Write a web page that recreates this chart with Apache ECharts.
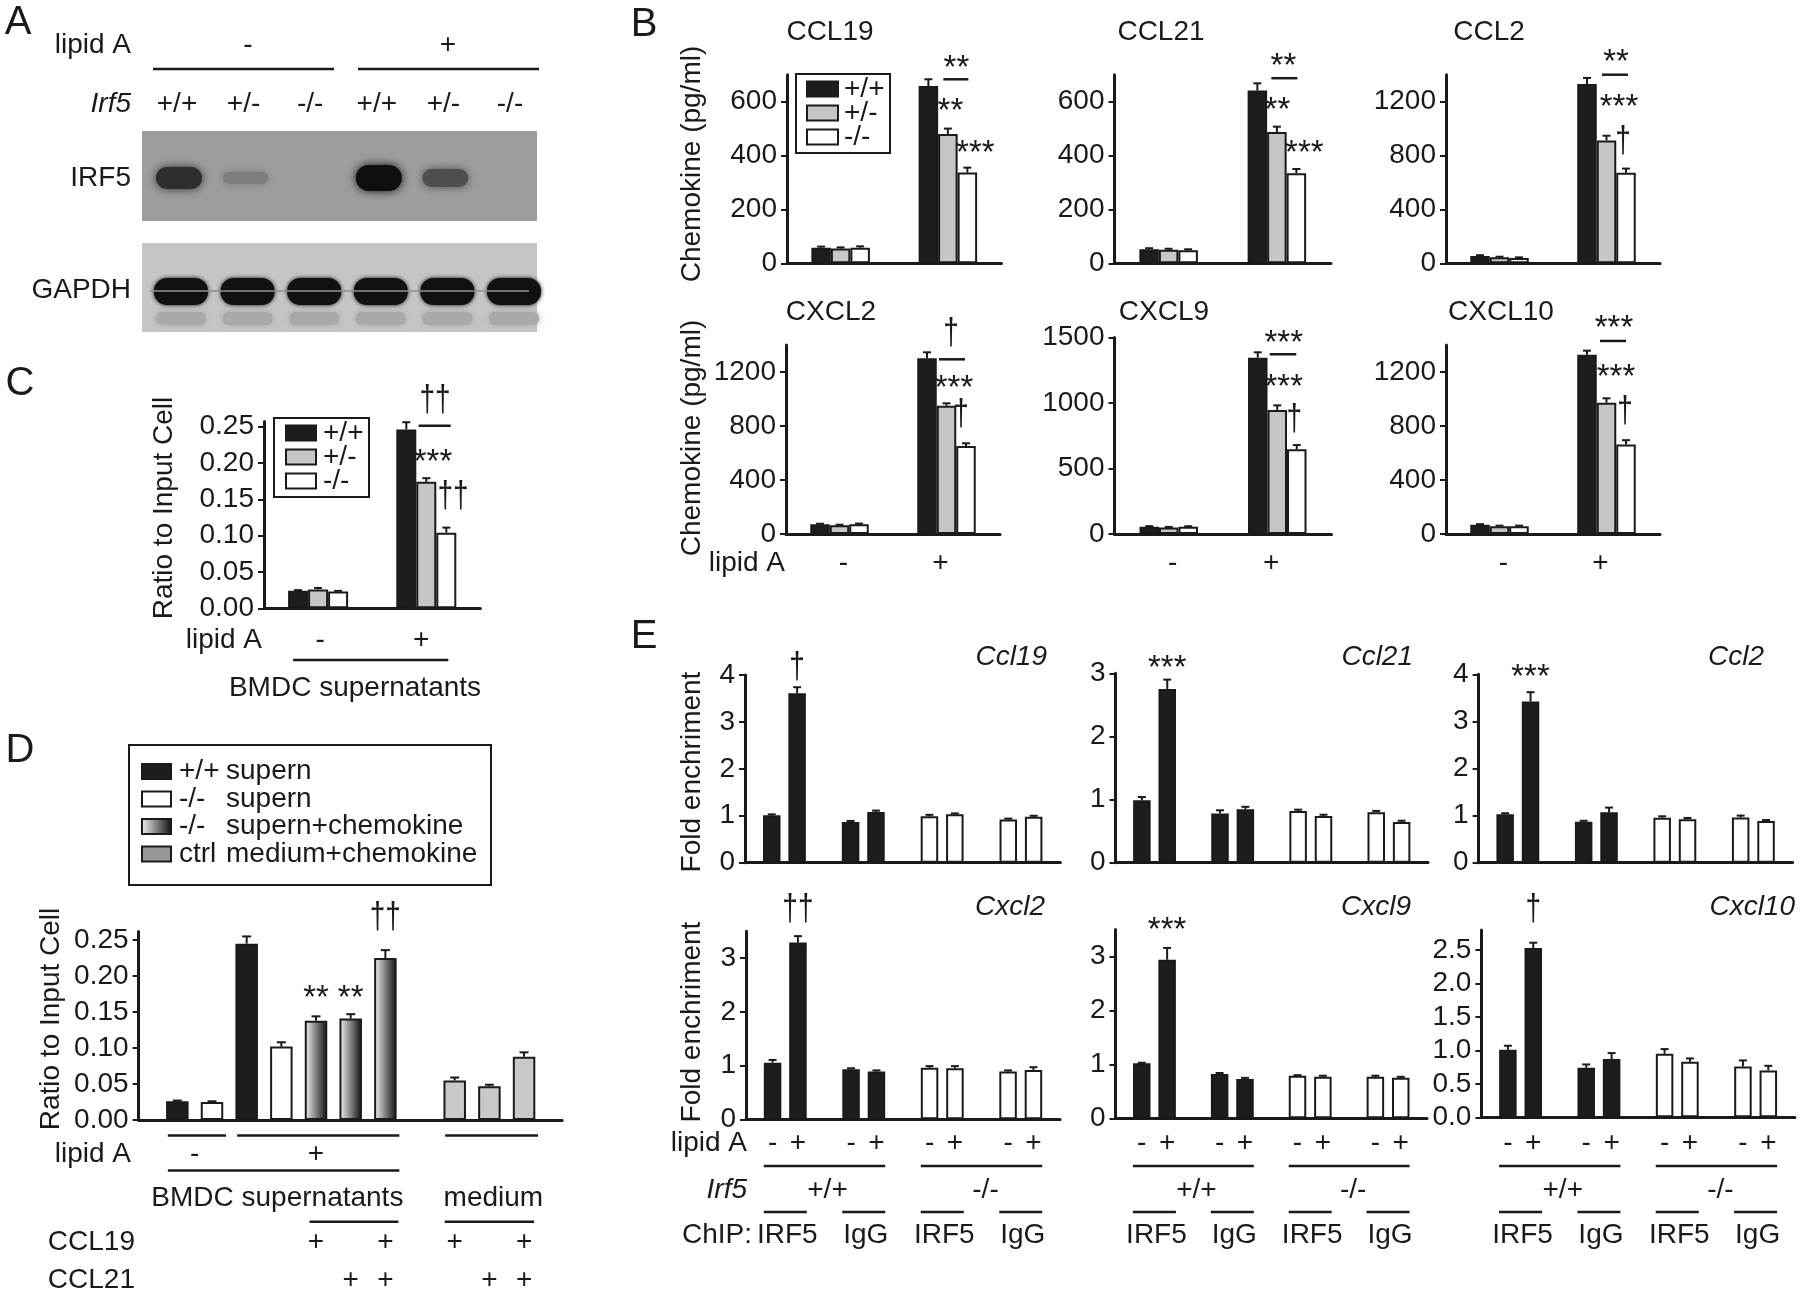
<!DOCTYPE html>
<html><head><meta charset="utf-8">
<script src="https://cdn.jsdelivr.net/npm/echarts@6/dist/echarts.min.js"></script>
<style>html,body{margin:0;padding:0;background:#fff}#c{width:1800px;height:1296px}</style>
</head><body><div id="c"></div>
<script>
// ================= DATA =================
// Panel A (western blot)
const blotLipidA = ['-', '+'];
const blotLanes = ['+/+', '+/-', '-/-', '+/+', '+/-', '-/-'];
const irf5Band = [0.78, 0.22, 0, 1, 0.55, 0];
const gapdhBand = [1, 1, 1, 1, 1, 1];

// Panel B (chemokine ELISA) : per panel [lipid A -, lipid A +]
const bTitles = ['CCL19', 'CCL21', 'CCL2', 'CXCL2', 'CXCL9', 'CXCL10'];
const bLipidA = ['-', '+'];
const bGenotypes = ['+/+', '+/-', '-/-'];
const bWT  = [[58, 658], [52, 641], [55, 1331], [72, 1301], [55, 1346], [68, 1327]];
const bHet = [[55, 480], [50, 487], [45, 912], [65, 950], [50, 947], [58, 973]];
const bKO  = [[58, 337], [48, 334], [40, 673], [72, 652], [55, 646], [58, 663]];
const bWTErr  = [[4, 25], [4, 27], [5, 45], [4, 45], [5, 41], [5, 31]];
const bHetErr = [[4, 20], [4, 20], [4, 35], [4, 18], [4, 35], [4, 32]];
const bKOErr  = [[5, 18], [4, 16], [4, 30], [5, 20], [4, 33], [4, 32]];
const bMax = [700, 700, 1400, 1400, 1500, 1400];
const bTicks = [[0, 200, 400, 600], [0, 200, 400, 600], [0, 400, 800, 1200],
                [0, 400, 800, 1200], [0, 500, 1000, 1500], [0, 400, 800, 1200]];

// Panel C
const cLipidA = ['-', '+'];
const cWT = [0.024, 0.246], cHet = [0.026, 0.174], cKO = [0.023, 0.104];
const cWTErr = [0.001, 0.010], cHetErr = [0.002, 0.005], cKOErr = [0.001, 0.007];
const cTicks = [0, 0.05, 0.10, 0.15, 0.20, 0.25];

// Panel D
const dLegend = [['+/+', 'supern'], ['-/-', 'supern'], ['-/-', 'supern+chemokine'], ['ctrl', 'medium+chemokine']];
const dPos = [1, 2, 3, 4, 5, 6, 7, 9, 10, 11];
const dValues = [0.026, 0.025, 0.245, 0.102, 0.138, 0.141, 0.225, 0.055, 0.047, 0.088];
const dErr = [0.001, 0.001, 0.010, 0.006, 0.006, 0.006, 0.011, 0.004, 0.002, 0.006];
const dKind = [0, 1, 0, 1, 2, 2, 2, 3, 3, 3];
const dCCL19 = ['', '', '', '', '+', '', '+', '+', '', '+'];
const dCCL21 = ['', '', '', '', '', '+', '+', '', '+', '+'];
const dTicks = [0, 0.05, 0.10, 0.15, 0.20, 0.25];

// Panel E (ChIP) : groups [+/+ IRF5, +/+ IgG, -/- IRF5, -/- IgG]
const eTitles = ['Ccl19', 'Ccl21', 'Ccl2', 'Cxcl2', 'Cxcl9', 'Cxcl10'];
const eChIP = ['IRF5', 'IgG', 'IRF5', 'IgG'];
const eIrf5 = ['+/+', '-/-'];
const eLipidA = ['-', '+'];
const eMinus = [[1.01, 0.87, 0.99, 0.92], [0.99, 0.78, 0.82, 0.80], [1.03, 0.87, 0.955, 0.96],
                [1.055, 0.93, 0.96, 0.89], [1.02, 0.82, 0.79, 0.77], [1.01, 0.74, 0.95, 0.76]];
const ePlus  = [[3.61, 1.08, 1.03, 0.98], [2.75, 0.845, 0.74, 0.645], [3.42, 1.07, 0.92, 0.885],
                [3.29, 0.89, 0.95, 0.92], [2.94, 0.73, 0.77, 0.75], [2.53, 0.87, 0.83, 0.70]];
const eMinusErr = [[0.02, 0.02, 0.03, 0.02], [0.05, 0.05, 0.02, 0.02], [0.02, 0.02, 0.03, 0.04],
                   [0.05, 0.02, 0.03, 0.02], [0.01, 0.02, 0.01, 0.02], [0.06, 0.05, 0.07, 0.09]];
const ePlusErr  = [[0.13, 0.03, 0.02, 0.02], [0.15, 0.04, 0.02, 0.02], [0.20, 0.10, 0.03, 0.02],
                   [0.12, 0.02, 0.04, 0.05], [0.22, 0.02, 0.02, 0.02], [0.08, 0.09, 0.05, 0.07]];
const eMax = [4, 3, 4, 3.5, 3.5, 2.8];
const eTicks = [[0, 1, 2, 3, 4], [0, 1, 2, 3], [0, 1, 2, 3, 4], [0, 1, 2, 3], [0, 1, 2, 3], [0, 0.5, 1, 1.5, 2, 2.5]];

// Significance marks: [panel, category, dx(px), value, text]
const bSig = [
  [0, 1, 8.5, 748, '**'], [0, 1, 2.5, 588, '**'], [0, 1, 27.5, 433, '***'],
  [1, 1, 6.5, 755, '**'], [1, 1, 0.5, 594, '**'], [1, 1, 27.5, 433, '***'],
  [2, 1, 9.5, 1541, '**'], [2, 1, 12.5, 1207, '***'], [2, 1, 16.5, 899, '\u2020'],
  [3, 1, 4.5, 1481, '\u2020'], [3, 1, 7.5, 1128, '***'], [3, 1, 14.5, 881, '\u2020'],
  [4, 1, 6.5, 1506, '***'], [4, 1, 6.5, 1176, '***'], [4, 1, 17, 870, '\u2020'],
  [5, 1, 7.5, 1573, '***'], [5, 1, 9.5, 1215, '***'], [5, 1, 18.5, 906, '\u2020']
];
const bSigLine = [[0, 1, -4.5, 20.5, 683], [1, 1, -5.5, 20.5, 687], [2, 1, -4.5, 21.5, 1400],
                  [3, 1, -7.5, 18.5, 1294], [4, 1, -7.5, 19, 1372], [5, 1, -6.5, 19.5, 1430]];
const cSig = [[1, 8.7, 0.2857, '\u2020\u2020'], [1, 6.7, 0.211, '***'], [1, 26.7, 0.1536, '\u2020\u2020']];
const cSigLine = [1, -7.7, 24.4, 0.2513];
const dSig = [[5, 0.178, '**'], [6, 0.178, '**'], [7, 0.28, '\u2020\u2020']];
const eSig = [[0, 4.15, '\u2020'], [1, 3.19, '***'], [2, 4.09, '***'], [3, 3.9, '\u2020\u2020'], [4, 3.62, '***'], [5, 3.1, '\u2020']];

// ================= STYLE / LAYOUT =================
const FONT = "'Liberation Sans', Arial, Helvetica, sans-serif";
const INK = '#1a1a1a';
const F_BLACK = '#1d1d1d', F_GREY = '#c6c6c6', F_WHITE = '#ffffff';
const F_GRAD = {type: 'linear', x: 0, y: 0, x2: 1, y2: 0,
  colorStops: [{offset: 0, color: '#f4f4f4'}, {offset: 1, color: '#0e0e0e'}]};
const dFills = [F_BLACK, F_WHITE, F_GRAD, '#c8c8c8'];
const dLegendFills = [F_BLACK, F_WHITE, F_GRAD, '#979797'];

const bGridRects = [
  {left: 787, top: 74.7, width: 214.5, height: 188.6},
  {left: 1114.5, top: 74.7, width: 216.5, height: 188.6},
  {left: 1446, top: 74.7, width: 214, height: 188.6},
  {left: 786, top: 345, width: 214, height: 189},
  {left: 1114.5, top: 337.5, width: 217, height: 196.5},
  {left: 1446, top: 345, width: 214, height: 189}
];
const cGridRect = {left: 264, top: 421.5, width: 216.4, height: 186.8};
const dGridRect = {left: 138.6, top: 931.4, width: 423.6, height: 188.6};
const eGridRects = [
  {left: 745, top: 675, width: 315.4, height: 187.7},
  {left: 1115.5, top: 673.3, width: 312.5, height: 189.4},
  {left: 1478.6, top: 674.3, width: 314, height: 188.4},
  {left: 746, top: 931.3, width: 314, height: 188},
  {left: 1115.5, top: 929.6, width: 311.5, height: 188.7},
  {left: 1481.4, top: 930, width: 313.4, height: 187.3}
];

const option = {animation: false, backgroundColor: '#ffffff', textStyle: {fontFamily: FONT},
  grid: [], xAxis: [], yAxis: [], series: []};

function addGrid(r) {
  option.grid.push(Object.assign({containLabel: false, outerBoundsMode: 'none'}, r));
  return option.grid.length - 1;
}
function addValueY(g, max, ticks, fmt) {
  option.yAxis.push({gridIndex: g, type: 'value', min: 0, max: max, splitLine: {show: false},
    axisLine: {show: true, onZero: false, lineStyle: {color: INK, width: 3}},
    axisTick: {show: true, inside: false, length: 6, lineStyle: {color: INK, width: 2}, customValues: ticks},
    axisLabel: {show: true, customValues: ticks, formatter: fmt, color: INK, fontSize: 28, fontFamily: FONT, margin: 10}});
}
function addCatX(g, cats) {
  option.xAxis.push({gridIndex: g, type: 'category', data: cats,
    axisLine: {show: true, onZero: false, lineStyle: {color: INK, width: 3}},
    axisTick: {show: false}, axisLabel: {show: false}, splitLine: {show: false}});
}
function addBar(g, name, data, fill, width, gap) {
  option.series.push({type: 'bar', name: name, xAxisIndex: g, yAxisIndex: g, barWidth: width, barGap: gap,
    data: data, itemStyle: {color: fill, borderColor: INK, borderWidth: 2}, z: 2});
}
function addErr(g, xs, vals, errs, dx, cap) {
  option.series.push({type: 'custom', xAxisIndex: g, yAxisIndex: g, z: 4, silent: true,
    encode: {x: 0, y: 1},
    data: vals.map((v, i) => [xs[i], v, errs[i]]),
    renderItem: function (params, api) {
      const xv = api.value(0), v = api.value(1), e = api.value(2);
      const b = api.coord([xv, v]), t = api.coord([xv, v + e]);
      const x = b[0] + dx;
      return {type: 'group', children: [
        {type: 'line', shape: {x1: x, y1: b[1], x2: x, y2: t[1]}, style: {stroke: INK, lineWidth: 2}},
        {type: 'line', shape: {x1: x - cap / 2, y1: t[1], x2: x + cap / 2, y2: t[1]}, style: {stroke: INK, lineWidth: 2}}
      ]};
    }});
}
const intFmt = v => String(Math.round(v));
const fix2 = v => v.toFixed(2);
const fix1 = v => v.toFixed(1);

// ---- B grids 0..5
const bFills = [F_BLACK, F_GREY, F_WHITE];
for (let p = 0; p < 6; p++) {
  const g = addGrid(bGridRects[p]);
  addCatX(g, bLipidA);
  addValueY(g, bMax[p], bTicks[p], intFmt);
  const vals = [bWT[p], bHet[p], bKO[p]], errs = [bWTErr[p], bHetErr[p], bKOErr[p]];
  for (let s = 0; s < 3; s++) addBar(g, bGenotypes[s], vals[s], bFills[s], 19.5, '0%');
  for (let s = 0; s < 3; s++) addErr(g, [0, 1], vals[s], errs[s], (s - 1) * 19.5, 8);
}
// ---- C grid 6
{
  const g = addGrid(cGridRect);
  addCatX(g, cLipidA);
  addValueY(g, 0.257, cTicks, fix2);
  const vals = [cWT, cHet, cKO], errs = [cWTErr, cHetErr, cKOErr];
  for (let s = 0; s < 3; s++) addBar(g, bGenotypes[s], vals[s], bFills[s], 20, '0%');
  for (let s = 0; s < 3; s++) addErr(g, [0, 1], vals[s], errs[s], (s - 1) * 20, 8);
}
// ---- D grid 7 (value x-axis with bar slots)
{
  const g = addGrid(dGridRect);
  option.xAxis.push({gridIndex: g, type: 'value', min: -0.117, max: 12.1,
    axisLine: {show: true, onZero: false, lineStyle: {color: INK, width: 3}},
    axisTick: {show: false}, axisLabel: {show: false}, splitLine: {show: false}});
  addValueY(g, 0.262, dTicks, fix2);
  option.series.push({type: 'bar', xAxisIndex: g, yAxisIndex: g, barWidth: 22.5, z: 2,
    data: dValues.map((v, i) => ({value: [dPos[i], v],
      itemStyle: {color: dFills[dKind[i]], borderColor: INK, borderWidth: 2}}))});
  addErr(g, dPos, dValues, dErr, 0, 9);
}
// ---- E grids 8..13
const eCats = [eIrf5[0] + ' ' + eChIP[0], eIrf5[0] + ' ' + eChIP[1], eIrf5[1] + ' ' + eChIP[2], eIrf5[1] + ' ' + eChIP[3]];
const eOff = 12.69;
for (let p = 0; p < 6; p++) {
  const g = addGrid(eGridRects[p]);
  addCatX(g, eCats);
  addValueY(g, eMax[p], eTicks[p], p === 5 ? fix1 : intFmt);
  const colorOf = i => (i < 2 ? F_BLACK : F_WHITE);
  option.series.push({type: 'bar', name: 'lipid A -', xAxisIndex: g, yAxisIndex: g, barWidth: 17.5, barGap: '45%', z: 2,
    data: eMinus[p].map((v, i) => ({value: v, itemStyle: {color: colorOf(i), borderColor: INK, borderWidth: 2}}))});
  option.series.push({type: 'bar', name: 'lipid A +', xAxisIndex: g, yAxisIndex: g, barWidth: 17.5, barGap: '45%', z: 2,
    data: ePlus[p].map((v, i) => ({value: v, itemStyle: {color: colorOf(i), borderColor: INK, borderWidth: 2}}))});
  addErr(g, [0, 1, 2, 3], eMinus[p], eMinusErr[p], -eOff, 8);
  addErr(g, [0, 1, 2, 3], ePlus[p], ePlusErr[p], eOff, 8);
}

const chart = echarts.init(document.getElementById('c'), null, {renderer: 'canvas', width: 1800, height: 1296});
chart.setOption(option);

// ================= ANNOTATIONS (graphic) =================
const G = [];
function T(x, y, s, o) {
  o = o || {};
  const size = o.size || 28;
  const font = (o.italic ? 'italic ' : '') + size + 'px ' + FONT;
  const al = o.align || 'center', va = o.va || 'middle';
  G.push({type: 'text', x: x, y: y, rotation: o.rot || 0, scaleY: o.sy || 1, z: 50,
    style: {text: s, font: font, fill: INK, textAlign: al, textVerticalAlign: va, align: al, verticalAlign: va}});
}
function L(x1, y1, x2, y2, w, c) {
  G.push({type: 'line', z: 40, shape: {x1: x1, y1: y1, x2: x2, y2: y2}, style: {stroke: c || INK, lineWidth: w || 2.5}});
}
function R(x, y, w, h, fill, o) {
  o = o || {};
  G.push({type: 'rect', z: o.z || 30, shape: {x: x, y: y, width: w, height: h, r: o.r || 0},
    style: {fill: fill, stroke: o.stroke || null, lineWidth: o.lw || 0,
      shadowBlur: o.blur || 0, shadowColor: o.blur ? (o.sc || fill) : 'rgba(0,0,0,0)'}});
}
function sigText(x, y, s) {
  if (s.indexOf('*') >= 0) T(x, y + 7.5, s, {size: 33});
  else T(x, y, s, {size: 28, sy: 1.3});
}
const px = (g, x, y) => chart.convertToPixel({gridIndex: g}, [x, y]);

// ---- Panel A
T(18, 23, 'A', {size: 40});
T(131, 45, 'lipid A', {align: 'right'});
T(248, 45, blotLipidA[0]); T(448, 45, blotLipidA[1]);
L(153, 69, 334, 69); L(358, 69, 539, 69);
T(131, 104, 'Irf5', {align: 'right', italic: true});
const blotX = 142, blotW = 395, laneX0 = 179, lanePitch = 66.6;
blotLanes.forEach((s, i) => T(laneX0 + i * lanePitch - 2, 104, s));
T(131, 178, 'IRF5', {align: 'right'});
T(131, 290, 'GAPDH', {align: 'right'});
R(blotX, 131, blotW, 90, '#9d9d9d', {z: 20});
irf5Band.forEach((k, i) => {
  if (k <= 0) return;
  const cx = laneX0 + i * lanePitch;
  const lv = Math.round(157 - k * 142);
  const col = 'rgb(' + lv + ',' + lv + ',' + lv + ')';
  const h = 8 + k * 18;
  R(cx - 23, 178 - h / 2, 46, h, col, {r: h / 2, blur: 10, z: 22});
});
R(blotX, 243, blotW, 89, '#c5c5c5', {z: 20});
L(blotX + 8, 291, blotX + blotW - 8, 291, 1.5, '#8f8f8f');
gapdhBand.forEach((k, i) => {
  const cx = laneX0 + 2 + i * lanePitch;
  R(cx - 25, 312, 50, 13, '#a9a9a9', {r: 6, blur: 6, z: 21});
  const lv = Math.round(195 - k * 178);
  const col = 'rgb(' + lv + ',' + lv + ',' + lv + ')';
  R(cx - 27, 278, 54, 27, col, {r: 13, blur: 4, z: 22});
});

// ---- Panel B
T(644, 25, 'B', {size: 40});
const bTitlePos = [[830, 32], [1161, 32], [1489, 32], [831, 312], [1164, 312], [1501, 312]];
bTitles.forEach((t, p) => T(bTitlePos[p][0], bTitlePos[p][1], t));
T(692, 164, 'Chemokine (pg/ml)', {rot: Math.PI / 2});
T(692, 438, 'Chemokine (pg/ml)', {rot: Math.PI / 2});
R(796, 74, 94, 79, 'none', {stroke: INK, lw: 2, z: 45});
[89, 113, 137].forEach((y, i) => {
  R(807, y - 7.5, 31, 15, bFills[i], {stroke: INK, lw: 2, z: 46});
  T(844, y, bGenotypes[i], {align: 'left'});
});
T(785, 563, 'lipid A', {align: 'right'});
for (let p = 3; p < 6; p++) {
  T(px(p, 0, 0)[0] + 4, 563, bLipidA[0]);
  T(px(p, 1, 0)[0] - 6, 563, bLipidA[1]);
}
bSig.forEach(a => { const q = px(a[0], a[1], a[3]); sigText(q[0] + a[2], q[1], a[4]); });
bSigLine.forEach(a => { const q = px(a[0], a[1], a[4]); L(q[0] + a[2], q[1], q[0] + a[3], q[1], 2.5); });

// ---- Panel C
T(20, 384, 'C', {size: 40});
T(164, 508, 'Ratio to Input Cell', {rot: Math.PI / 2});
R(274, 418, 95, 79, 'none', {stroke: INK, lw: 2, z: 45});
[433, 457, 481].forEach((y, i) => {
  R(286, y - 7.5, 30, 15, bFills[i], {stroke: INK, lw: 2, z: 46});
  T(323, y, bGenotypes[i], {align: 'left'});
});
T(262, 640, 'lipid A', {align: 'right'});
{
  const c0 = px(6, 0, 0)[0], c1 = px(6, 1, 0)[0];
  T(c0 + 2, 640, cLipidA[0]); T(c1 - 5, 640, cLipidA[1]);
  L(c0 - 25, 660, c1 + 22, 660);
  T(355, 688, 'BMDC supernatants');
  cSig.forEach(a => { const q = px(6, a[0], a[2]); sigText(q[0] + a[1], q[1], a[3]); });
  const q = px(6, cSigLine[0], cSigLine[3]);
  L(q[0] + cSigLine[1], q[1], q[0] + cSigLine[2], q[1]);
}

// ---- Panel D
T(20, 751, 'D', {size: 40});
R(129, 745, 362, 140, 'none', {stroke: INK, lw: 2, z: 45});
[771.5, 799, 826.5, 854].forEach((y, i) => {
  R(142, y - 7.5, 29, 15, dLegendFills[i], {stroke: INK, lw: 2, z: 46});
  T(179, y, dLegend[i][0], {align: 'left'});
  T(226, y, dLegend[i][1], {align: 'left'});
});
T(51, 1019, 'Ratio to Input Cell', {rot: Math.PI / 2});
{
  const cx = dPos.map(p => px(7, p, 0)[0]);
  L(cx[0] - 9.5, 1135.4, cx[1] + 14, 1135.4);
  L(cx[2] - 9.5, 1135.4, cx[6] + 14, 1135.4);
  L(cx[7] - 9.5, 1135.4, cx[9] + 14, 1135.4);
  T(131, 1154, 'lipid A', {align: 'right'});
  T((cx[0] + cx[1]) / 2, 1154, '-');
  T((cx[2] + cx[6]) / 2, 1154, '+');
  L(cx[0] - 9.5, 1170.4, cx[6] + 14, 1170.4);
  T((cx[0] + cx[6]) / 2 - 4, 1198, 'BMDC supernatants');
  T((cx[7] + cx[9]) / 2 + 4, 1198, 'medium');
  L(cx[4] - 6.5, 1221.8, cx[6] + 13, 1221.8);
  L(cx[7] - 10, 1221.8, cx[9] + 10, 1221.8);
  T(135, 1242, 'CCL19', {align: 'right'});
  T(135, 1280.5, 'CCL21', {align: 'right'});
  dCCL19.forEach((s, i) => { if (s) T(cx[i], 1242, s); });
  dCCL21.forEach((s, i) => { if (s) T(cx[i], 1280.5, s); });
  dSig.forEach(a => { const q = px(7, a[0], a[1]); sigText(q[0], q[1], a[2]); });
}

// ---- Panel E
T(644, 637, 'E', {size: 40});
const eTitlePos = [[1047, 657], [1413, 657], [1764, 657], [1045, 907], [1411, 907], [1795, 907]];
eTitles.forEach((t, p) => T(eTitlePos[p][0], eTitlePos[p][1], t, {align: 'right', italic: true}));
T(692, 772, 'Fold enchriment', {rot: Math.PI / 2});
T(692, 1022, 'Fold enchriment', {rot: Math.PI / 2});
eSig.forEach((a, p) => { const q = px(8 + a[0], 0, a[1]); sigText(q[0] + eOff, q[1], a[2]); });
T(747, 1143, 'lipid A', {align: 'right'});
T(747, 1190, 'Irf5', {align: 'right', italic: true});
T(752, 1235, 'ChIP:', {align: 'right'});
for (let p = 3; p < 6; p++) {
  const g = 8 + p;
  const c = [0, 1, 2, 3].map(i => px(g, i, 0)[0]);
  c.forEach(x => { T(x - eOff, 1143, eLipidA[0]); T(x + eOff, 1143, eLipidA[1]); });
  L(c[0] - 21.5, 1166, c[1] + 21.5, 1166);
  L(c[2] - 21.5, 1166, c[3] + 21.5, 1166);
  T((c[0] + c[1]) / 2 + 3, 1190, eIrf5[0]);
  T((c[2] + c[3]) / 2 + 4, 1190, eIrf5[1]);
  c.forEach((x, i) => { L(x - 21.5, 1212, x + 21.5, 1212); T(x + 2, 1235, eChIP[i]); });
}

chart.setOption({graphic: {elements: G}});
</script>
</body></html>
